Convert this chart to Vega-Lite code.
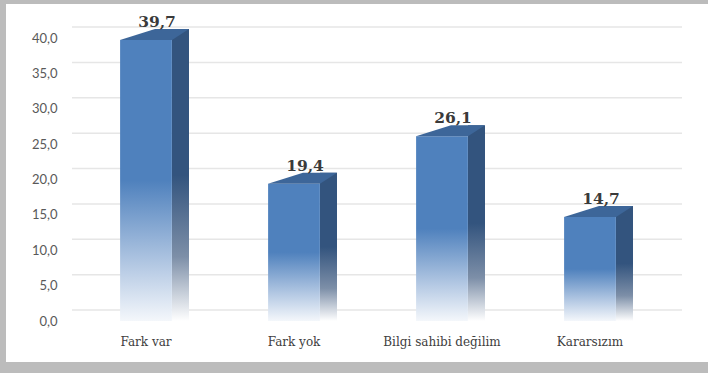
{
  "$schema": "https://vega.github.io/schema/vega-lite/v6.json",
  "autosize": {"type": "none"},
  "width": 592,
  "height": 283,
  "padding": {"left": 72, "top": 38, "right": 44, "bottom": 52},
  "background": "#bcbcbc",
  "config": {
    "view": {"stroke": null},
    "axis": {"zindex": 1},
    "locale": {"number": {"decimal": ",", "thousands": ".", "grouping": [3], "currency": ["", " TL"]}}
  },
  "data": {"values": [
    {"cat": "Fark var", "value": 39.7},
    {"cat": "Fark yok", "value": 19.4},
    {"cat": "Bilgi sahibi değilim", "value": 26.1},
    {"cat": "Kararsızım", "value": 14.7}
  ]},
  "encoding": {
    "x": {"field": "cat", "type": "nominal", "sort": null,
      "scale": {"paddingInner": 0.65, "paddingOuter": 0.325},
      "axis": {"title": null, "labelAngle": 0, "domain": false, "ticks": false, "tickSize": 0, "labelPadding": 15, "zindex": 1,
        "labelFont": "DejaVu Serif", "labelFontSize": 12, "labelColor": "#404040"}},
    "y": {"field": "value", "type": "quantitative", "stack": null,
      "scale": {"domain": [0, 40], "nice": false},
      "axis": {"title": null, "domain": false, "ticks": false, "tickSize": 0, "grid": false, "labelOverlap": false, "zindex": 1,
        "values": [0, 5, 10, 15, 20, 25, 30, 35, 40], "format": ".1f", "labelPadding": 15,
        "labelFont": "Lato", "labelFontSize": 13, "labelColor": "#595959"}}
  },
  "layer": [
    {
      "data": {"values": [{}]},
      "mark": {"type": "rect", "fill": "#ffffff", "xOffset": -66, "x2Offset": 44, "yOffset": -34, "y2Offset": 41},
      "encoding": {"x": {"value": 0}, "x2": {"value": "width"}, "y": {"value": 0}, "y2": {"value": "height"}}
    },
    {
      "data": {"values": [{"v": 0}, {"v": 5}, {"v": 10}, {"v": 15}, {"v": 20}, {"v": 25}, {"v": 30}, {"v": 35}, {"v": 40}]},
      "mark": {"type": "rule", "stroke": "#e6e6e6", "strokeWidth": 1.5, "xOffset": 18, "x2Offset": 18, "yOffset": -11},
      "encoding": {"x": null, "y": {"field": "v", "type": "quantitative"}}
    },
    {
      "mark": {"type": "bar", "width": 17, "xOffset": 34.5, "yOffset": -11, "y2Offset": -11,
        "fill": {"gradient": "linear", "x1": 0, "y1": 0, "x2": 0, "y2": 1,
          "stops": [{"offset": 0, "color": "#33547e"}, {"offset": 0.5, "color": "#33547e"}, {"offset": 0.78, "color": "#7d8fa8"}, {"offset": 1, "color": "#ffffff"}]}}
    },
    {
      "mark": {"type": "bar",
        "fill": {"gradient": "linear", "x1": 0, "y1": 0, "x2": 0, "y2": 1,
          "stops": [{"offset": 0, "color": "#4f81bd"}, {"offset": 0.5, "color": "#4f81bd"}, {"offset": 0.8, "color": "#b3c8e3"}, {"offset": 1, "color": "#f4f7fb"}]}}
    },
    {
      "mark": {"type": "point", "filled": true, "opacity": 1, "fill": "#3d6699", "strokeWidth": 0, "size": 4761,
        "shape": "M -0.7536 0 L 0.7536 0 L 1.2464 -0.3188 L 0.2609 -0.3188 Z"}
    },
    {
      "mark": {"type": "text", "dx": 11, "dy": -13, "baseline": "alphabetic", "font": "DejaVu Serif", "fontWeight": "bold", "fontSize": 15.5, "fill": "#3a3a3a"},
      "encoding": {"text": {"field": "value", "type": "quantitative", "format": ".1f"}}
    }
  ]
}
